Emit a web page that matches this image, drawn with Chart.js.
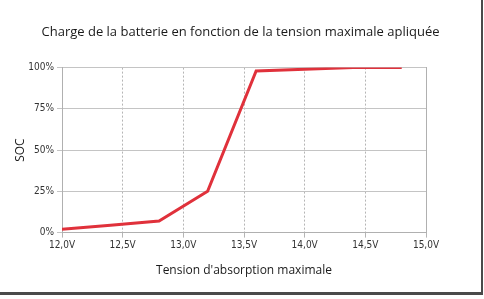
<!DOCTYPE html>
<html>
<head>
<meta charset="utf-8">
<script src="https://cdn.jsdelivr.net/npm/chart.js@4"></script>
<style>
    html, body { margin: 0; padding: 0; background: #fff; }
    #cadre {
        position: absolute; left: 0; top: 0;
        width: 481px; height: 292px;
        border-right: 2px solid #4a4a4a;
        border-bottom: 3px solid #4a4a4a;
        background: #fff;
    }
    #graficoSoc { display: block; }
</style>
</head>
<body>
<div id="cadre"><canvas id="graficoSoc" width="481" height="292"></canvas></div>
<script>
// Tensão máxima aplicada (V) e carga (SOC %)
const tensoes = [12.0, 12.4, 12.8, 13.2, 13.6, 14.0, 14.4, 14.8];
const soc = [2, 4.5, 7, 25, 98, 99, 100, 100];
const ticksX = [12.0, 12.5, 13.0, 13.5, 14.0, 14.5, 15.0];
const ticksY = [0, 25, 50, 75, 100];

document.addEventListener('DOMContentLoaded', () => {
    const ctx = document.getElementById('graficoSoc').getContext('2d');
    const pontos = tensoes.map((t, i) => ({ x: t, y: soc[i] }));
    const fonteEixo = { family: "'DejaVu Sans Condensed', 'Liberation Sans'", size: 10 };

    new Chart(ctx, {
        type: 'line',
        data: {
            datasets: [{
                label: 'SOC',
                data: pontos,
                borderColor: '#e0313b',
                borderWidth: 3,
                pointRadius: 0,
                tension: 0,
                fill: false
            }]
        },
        options: {
            responsive: false,
            animation: false,
            layout: { padding: { left: 0, right: 0, top: 0, bottom: 10 } },
            plugins: {
                legend: { display: false },
                tooltip: { enabled: false },
                title: {
                    display: true,
                    text: 'Charge de la batterie en fonction de la tension maximale apliquée',
                    color: '#1a1a1a',
                    font: { family: 'Open Sans', size: 13, weight: 'normal' },
                    padding: { top: 24, bottom: 28 }
                }
            },
            scales: {
                x: {
                    type: 'linear',
                    min: 12,
                    max: 15,
                    afterBuildTicks: axis => { axis.ticks = ticksX.map(v => ({ value: v })); },
                    ticks: {
                        color: '#333',
                        font: fonteEixo,
                        maxRotation: 0,
                        padding: 2,
                        callback: v => v.toFixed(1).replace('.', ',') + 'V'
                    },
                    grid: { color: '#b5b5b5', tickLength: 5, lineWidth: 1 },
                    border: { color: '#b0b0b0', dash: [2, 2] },
                    title: {
                        display: true,
                        text: "Tension d'absorption maximale",
                        color: '#1a1a1a',
                        font: { family: 'Open Sans', size: 12 },
                        padding: { top: 10 }
                    }
                },
                y: {
                    min: 0,
                    max: 100,
                    afterBuildTicks: axis => { axis.ticks = ticksY.map(v => ({ value: v })); },
                    afterFit: axis => { axis.width = 62; },
                    ticks: {
                        color: '#333',
                        font: fonteEixo,
                        padding: 3,
                        callback: v => v + '%'
                    },
                    grid: { color: '#c4c4c4', tickLength: 5, lineWidth: 1 },
                    border: { color: '#b0b0b0' },
                    title: {
                        display: true,
                        text: 'SOC',
                        color: '#1a1a1a',
                        font: { family: 'Open Sans', size: 12 },
                        padding: { top: 13, bottom: 0 }
                    }
                },
                direita: {
                    position: 'right',
                    min: 0,
                    max: 100,
                    afterFit: axis => { axis.width = 55; },
                    ticks: { display: false },
                    grid: { display: false },
                    border: { color: '#b0b0b0' }
                }
            }
        }
    });
});
</script>
</body>
</html>
